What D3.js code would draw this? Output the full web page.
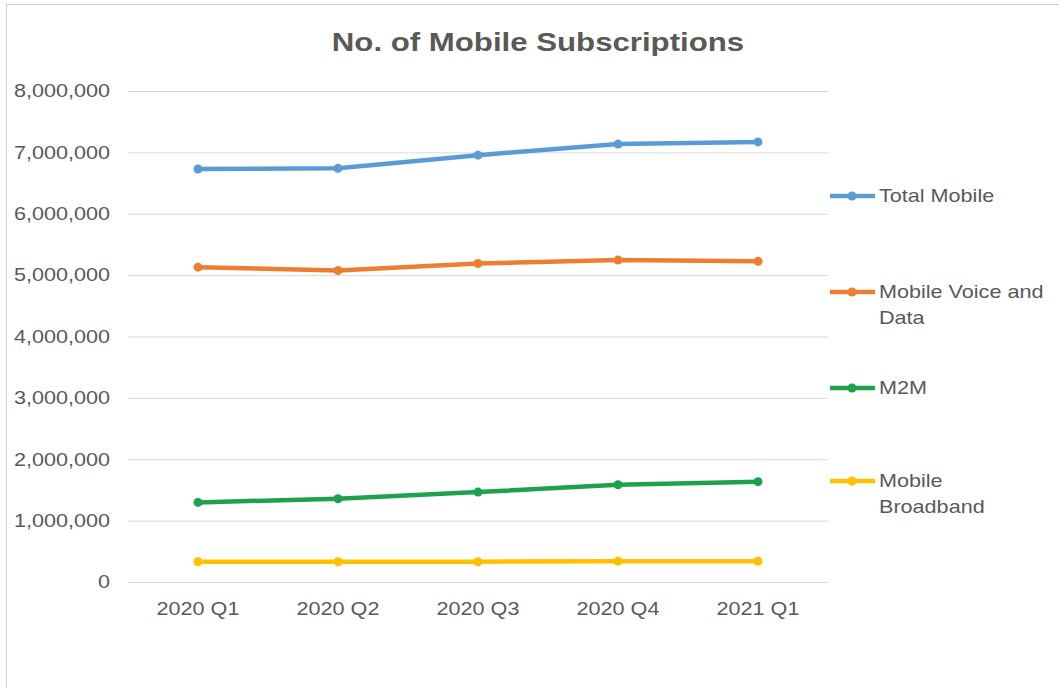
<!DOCTYPE html>
<html>
<head>
<meta charset="utf-8">
<script src="https://cdn.jsdelivr.net/npm/d3@7"></script>
<style>
  body { margin: 0; background: #fff; }
  svg { display: block; font-family: "Liberation Sans", Arial, sans-serif; }
</style>
</head>
<body>
<div id="chart"></div>
<script>
// Data
const quarters = ["2020 Q1", "2020 Q2", "2020 Q3", "2020 Q4", "2021 Q1"];
const totalMobile = [6730000, 6740000, 6955000, 7135000, 7170000];
const voiceData = [5130000, 5075000, 5190000, 5245000, 5225000];
const m2m = [1297000, 1357000, 1465000, 1584000, 1635000];
const broadband = [330000, 330000, 330000, 340000, 340000];
const seriesNames = [["Total Mobile"], ["Mobile Voice and", "Data"], ["M2M"], ["Mobile", "Broadband"]];
const seriesColors = ["#5b9bd5", "#ed7d31", "#1fa04e", "#ffc000"];
const yTicks = [0, 1000000, 2000000, 3000000, 4000000, 5000000, 6000000, 7000000, 8000000];

const series = [totalMobile, voiceData, m2m, broadband];

const W = 1059, H = 688;
const plot = {left: 128, right: 828, top: 91, bottom: 582};
const textColor = "#595959";
const stretch = 1.2; // reference text is horizontally stretched

const svg = d3.select("#chart").append("svg")
    .attr("width", W).attr("height", H);

// outer frame
svg.append("rect")
    .attr("x", 6.5).attr("y", 4.5)
    .attr("width", W + 20).attr("height", H + 20)
    .attr("fill", "none").attr("stroke", "#d0d0d0");

const x = d3.scalePoint().domain(quarters).range([plot.left, plot.right]).padding(0.5);
const y = d3.scaleLinear().domain([0, 8000000]).range([plot.bottom, plot.top]);

// helper: text with horizontal stretch
function addText(g, tx, ty, str, opts) {
    return g.append("text")
        .attr("transform", `translate(${tx},${ty}) scale(${stretch},1)`)
        .attr("text-anchor", opts.anchor || "start")
        .attr("dy", "0.35em")
        .attr("fill", textColor)
        .style("font-size", opts.size + "px")
        .style("font-weight", opts.weight || "normal")
        .text(str);
}

// title
addText(svg, 538, 42, "No. of Mobile Subscriptions", {anchor: "middle", size: 26, weight: "bold"});

// gridlines
svg.append("g").selectAll("line")
    .data(yTicks)
    .enter().append("line")
    .attr("x1", plot.left).attr("x2", plot.right)
    .attr("y1", d => y(d) + 0.5).attr("y2", d => y(d) + 0.5)
    .attr("stroke", "#d9d9d9").attr("stroke-width", 1);

// y labels
const fmt = d3.format(",");
const yLab = svg.append("g");
yTicks.forEach(t => addText(yLab, 110, y(t), fmt(t), {anchor: "end", size: 18}));

// x labels
const xLab = svg.append("g");
quarters.forEach(q => addText(xLab, x(q), 609, q, {anchor: "middle", size: 18}));

// lines
const line = d3.line().x((d, i) => x(quarters[i])).y(d => y(d));
series.forEach((s, si) => {
    const g = svg.append("g");
    g.append("path")
        .datum(s)
        .attr("d", line)
        .attr("fill", "none")
        .attr("stroke", seriesColors[si])
        .attr("stroke-width", 4.5)
        .attr("stroke-linejoin", "round");
    g.selectAll("circle")
        .data(s)
        .enter().append("circle")
        .attr("cx", (d, i) => x(quarters[i]))
        .attr("cy", d => y(d))
        .attr("r", 4.5)
        .attr("fill", seriesColors[si]);
});

// legend
const legendY = [196, 292, 388, 481];
const legend = svg.append("g");
seriesNames.forEach((lines, i) => {
    const ly = legendY[i];
    legend.append("line")
        .attr("x1", 830).attr("x2", 875)
        .attr("y1", ly).attr("y2", ly)
        .attr("stroke", seriesColors[i]).attr("stroke-width", 4.5);
    legend.append("circle")
        .attr("cx", 852).attr("cy", ly).attr("r", 4.5)
        .attr("fill", seriesColors[i]);
    lines.forEach((txt, j) => addText(legend, 879, ly + j * 26, txt, {size: 18}));
});
</script>
</body>
</html>
